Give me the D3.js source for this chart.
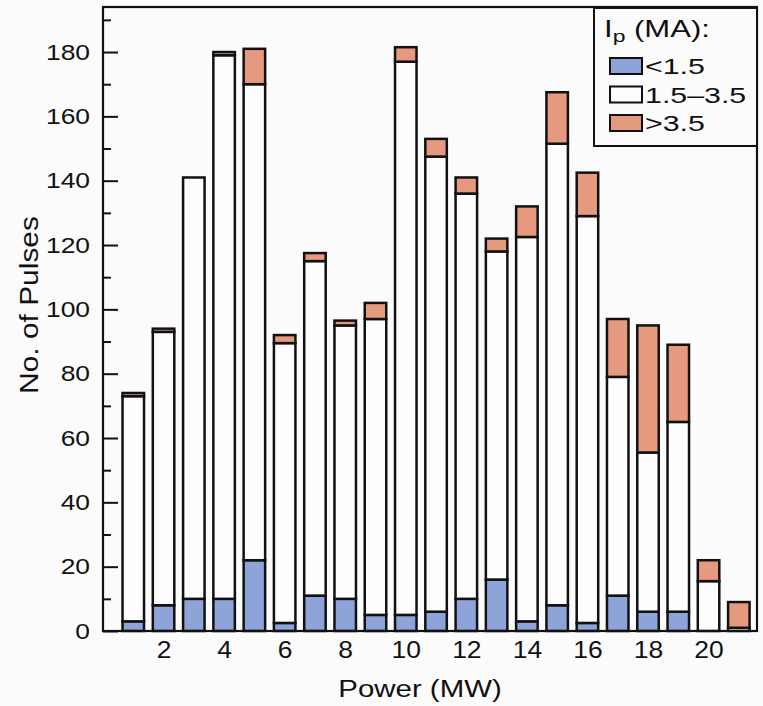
<!DOCTYPE html>
<html>
<head>
<meta charset="utf-8">
<script src="https://cdn.jsdelivr.net/npm/d3@7"></script>
<style>
  body { margin: 0; background: #fbfbfb; }
  text { font-family: "Liberation Sans", Arial, sans-serif; fill: #111; }
</style>
</head>
<body>
<div id="wrapper"></div>
<script>
// data
const power = [1, 2, 3, 4, 5, 6, 7, 8, 9, 10, 11, 12, 13, 14, 15, 16, 17, 18, 19, 20, 21];
const lowIp  = [3, 8, 10, 10, 22, 2.5, 11, 10, 5, 5, 6, 10, 16, 3, 8, 2.5, 11, 6, 6, 0, 0];
const midIp  = [70, 85, 131, 169, 148, 87, 104, 85, 92, 172, 141.5, 126, 102, 119.5, 143.5, 126.5, 68, 49.5, 59, 15.5, 1];
const highIp = [1, 1, 0, 1, 11, 2.5, 2.5, 1.5, 5, 4.5, 5.5, 5, 4, 9.5, 16, 13.5, 18, 39.5, 24, 6.5, 8];
const seriesKeys = ["low", "mid", "high"];
const seriesLabels = ["<1.5", "1.5\u20133.5", ">3.5"];
const xTicks = [2, 4, 6, 8, 10, 12, 14, 16, 18, 20];
const yTicks = [0, 20, 40, 60, 80, 100, 120, 140, 160, 180];
const yMinorTicks = [10, 30, 50, 70, 90, 110, 130, 150, 170, 190];

const colors = { low: "#8ea3d8", mid: "#fdfdfd", high: "#e59a80" };

// dimensions
let dimensions = {
  width: 763,
  height: 706,
  margins: { top: 7, right: 6, bottom: 75, left: 103 }
};
dimensions.boundedWidth = dimensions.width - dimensions.margins.left - dimensions.margins.right;
dimensions.boundedHeight = dimensions.height - dimensions.margins.top - dimensions.margins.bottom;

const rows = power.map((p, i) => ({ power: p, low: lowIp[i], mid: midIp[i], high: highIp[i] }));
const stacked = d3.stack().keys(seriesKeys)(rows);

const svg = d3.select("#wrapper")
  .append("svg")
  .attr("width", dimensions.width)
  .attr("height", dimensions.height);

const bounds = svg.append("g")
  .attr("transform", `translate(${dimensions.margins.left},${dimensions.margins.top})`);

const xScale = d3.scaleLinear()
  .domain([0, 21.6])
  .range([0, dimensions.boundedWidth]);

const yScale = d3.scaleLinear()
  .domain([0, 194])
  .range([dimensions.boundedHeight, 0]);

const barHalf = 0.355;

// bars
const layers = bounds.selectAll(".layer")
  .data(stacked)
  .join("g")
  .attr("class", "layer")
  .attr("fill", d => colors[d.key]);

layers.selectAll("rect")
  .data(d => d.filter(s => s[1] - s[0] > 0))
  .join("rect")
  .attr("x", d => xScale(d.data.power - barHalf))
  .attr("width", d => xScale(d.data.power + barHalf) - xScale(d.data.power - barHalf))
  .attr("y", d => yScale(d[1]))
  .attr("height", d => yScale(d[0]) - yScale(d[1]))
  .attr("stroke", "#111")
  .attr("stroke-width", 2.5);

// y axis: major ticks pointing inwards
const sx = 1.2;
const yAxis = bounds.append("g")
  .call(d3.axisLeft(yScale).tickValues(yTicks).tickSizeInner(-15).tickSizeOuter(0).tickPadding(13));
yAxis.select(".domain").remove();
yAxis.selectAll("line").attr("stroke", "#111").attr("stroke-width", 2);
yAxis.selectAll("text")
  .attr("font-size", 22)
  .attr("fill", "#111")
  .attr("x", -13 / sx)
  .attr("transform", `scale(${sx},1)`);

const yMinor = bounds.append("g")
  .call(d3.axisLeft(yScale).tickValues(yMinorTicks).tickSizeInner(-8).tickSizeOuter(0).tickFormat(""));
yMinor.select(".domain").remove();
yMinor.selectAll("line").attr("stroke", "#111").attr("stroke-width", 2);

// x axis labels
const xAxis = bounds.append("g")
  .attr("transform", `translate(0,${dimensions.boundedHeight})`)
  .call(d3.axisBottom(xScale).tickValues(xTicks).tickSize(0).tickPadding(11));
xAxis.select(".domain").remove();
xAxis.selectAll("text")
  .attr("font-size", 23)
  .attr("fill", "#111")
  .attr("transform", "scale(1.15,1)");

// frame
bounds.append("rect")
  .attr("width", dimensions.boundedWidth)
  .attr("height", dimensions.boundedHeight)
  .attr("fill", "none")
  .attr("stroke", "#111")
  .attr("stroke-width", 2.2);

// axis titles
svg.append("text")
  .attr("transform", `translate(420,697) scale(1.28,1)`)
  .attr("text-anchor", "middle")
  .attr("font-size", 23)
  .text("Power (MW)");

svg.append("text")
  .attr("transform", `translate(38,305) rotate(-90) scale(1.3,1.15)`)
  .attr("text-anchor", "middle")
  .attr("font-size", 23)
  .text("No. of Pulses");

// legend
const legend = svg.append("g");
legend.append("rect")
  .attr("x", 594).attr("y", 8)
  .attr("width", 163).attr("height", 138)
  .attr("fill", "#fbfbfb")
  .attr("stroke", "#111")
  .attr("stroke-width", 2);

const title = legend.append("text")
  .attr("transform", "translate(604,37) scale(1.35,1)")
  .attr("font-size", 23);
title.append("tspan").text("I");
title.append("tspan").attr("font-size", 17).attr("dy", 5).text("p");
title.append("tspan").attr("dy", -5).text(" (MA):");

const item = legend.selectAll(".item")
  .data(seriesKeys)
  .join("g")
  .attr("class", "item")
  .attr("transform", (d, i) => `translate(610,${58 + i * 28.5})`);

item.append("rect")
  .attr("width", 32).attr("height", 16)
  .attr("fill", d => colors[d])
  .attr("stroke", "#111")
  .attr("stroke-width", 2);

item.append("text")
  .attr("transform", "translate(35,16) scale(1.38,1)")
  .attr("font-size", 22)
  .text((d, i) => seriesLabels[i]);
</script>
</body>
</html>
